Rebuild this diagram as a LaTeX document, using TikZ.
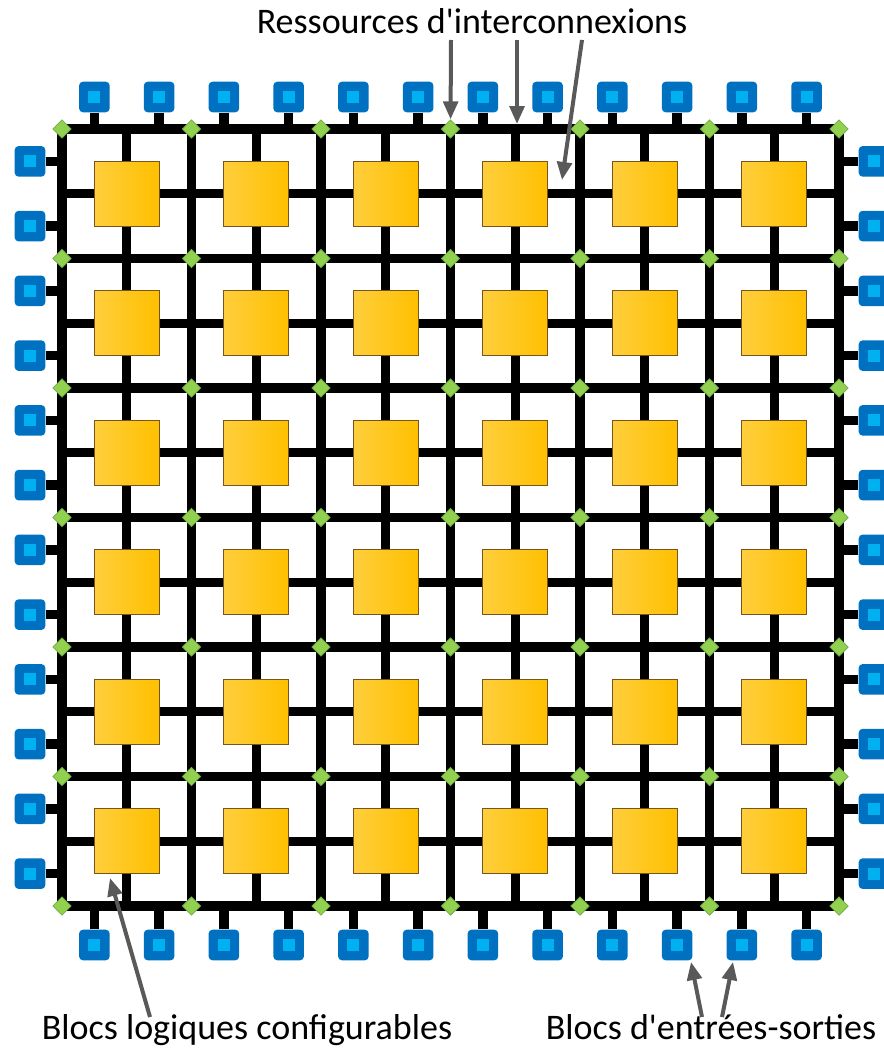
\documentclass[tikz,border=0pt]{standalone}
\usepackage{fontspec}
\setmainfont{Carlito}[Ligatures=TeXOff]
\usetikzlibrary{arrows.meta,shapes.geometric}
\usepackage{xcolor}
\definecolor{clbfill}{RGB}{255,192,0}
\definecolor{clblight}{RGB}{255,206,60}
\definecolor{clbedge}{RGB}{120,85,30}
\definecolor{iobblue}{RGB}{0,112,192}
\definecolor{iobcore}{RGB}{0,176,240}
\definecolor{swgreen}{RGB}{146,208,80}
\definecolor{swedge}{RGB}{112,173,71}
\definecolor{ptrgray}{RGB}{89,89,89}

\begin{document}
\begin{tikzpicture}[x=0.75pt, y=-0.75pt,
  wire/.style={line width=7pt, draw=black, line cap=rect},
  stub/.style={line width=7pt, draw=black},
  clb/.style={rectangle, draw=clbedge, line width=0.6pt, left color=clblight, right color=clbfill, minimum size=48.75pt, inner sep=0pt},
  iob/.style={rectangle, rounded corners=3pt, fill=iobblue, minimum size=23pt, inner sep=0pt, path picture={\fill[iobcore, sharp corners] ([xshift=-4.5pt,yshift=-4.5pt]path picture bounding box.center) rectangle ++(9pt,9pt);}},
  sw/.style={diamond, draw=swedge, line width=0.6pt, fill=swgreen, minimum size=14pt, inner sep=0pt},
  note/.style={font=\fontsize{27}{32}\selectfont, inner sep=0pt, anchor=base},
  ptr/.style={-{Triangle[length=13.5pt, width=11pt]}, line width=3pt, draw=ptrgray}
]
\useasboundingbox (0,0) rectangle (883,1049);

% grid points and cell centres
\foreach \i in {0,...,6}
  \foreach \j in {0,...,6}
    \coordinate (g-\i-\j) at ({62+129.5*\i},{129+129.5*\j});
\foreach \i in {0,...,5}
  \foreach \j in {0,...,5}
    \coordinate (c-\i-\j) at ({126.75+129.5*\i},{193.75+129.5*\j});

% routing tracks
\foreach \k in {0,...,6} {
  \draw[wire] (g-\k-0) -- (g-\k-6);
  \draw[wire] (g-0-\k) -- (g-6-\k);
}
\foreach \k in {0,...,5} {
  \draw[wire] (c-\k-0 |- g-0-0) -- (c-\k-0 |- g-0-6);
  \draw[wire] (c-0-\k -| g-0-0) -- (c-0-\k -| g-6-0);
}

% logic blocks
\foreach \i in {0,...,5}
  \foreach \j in {0,...,5}
    \node[clb] (clb-\i-\j) at (c-\i-\j) {};

% switch boxes
\foreach \i in {0,...,6}
  \foreach \j in {0,...,6}
    \node[sw] (sw-\i-\j) at (g-\i-\j) {};

% I/O blocks
\foreach \m in {1,...,12} {
  \node[iob] (iot-\m) at ({62+32.375*(2*\m-1)},97) {};
  \draw[stub] (iot-\m) -- (iot-\m |- g-0-0);
  \node[iob] (iob-\m) at ({62+32.375*(2*\m-1)},945) {};
  \draw[stub] (iob-\m) -- (iob-\m |- g-0-6);
  \node[iob] (iol-\m) at (30,{129+32.375*(2*\m-1)}) {};
  \draw[stub] (iol-\m) -- (iol-\m -| g-0-0);
  \node[iob] (ior-\m) at (874,{129+32.375*(2*\m-1)}) {};
  \draw[stub] (ior-\m) -- (ior-\m -| g-6-0);
}

% labels
\node[note] (lblroute) at (472,34) {Ressources d'interconnexions};
\node[note] (lblclb) at (247,1039) {Blocs logiques configurables};
\node[note] (lbliob) at (711,1039) {Blocs d'entrées-sorties};

\coordinate (route-a) at (451,40);
\coordinate (route-b) at (517,40);
\coordinate (route-c) at (582,40);
\coordinate (track-b) at (517,124);
\coordinate (track-c) at (562,180);
\coordinate (clb-tail) at (150,1017);
\coordinate (clb-tip) at (110,878);
\coordinate (iob-tail-a) at (702,1017);
\coordinate (iob-tail-b) at (722,1017);
\coordinate (iob-tip-a) at (691,962);
\coordinate (iob-tip-b) at (733,962);

\draw[ptr] (route-a) -- (sw-3-0);
\draw[ptr] (route-b) -- (track-b);
\draw[ptr] (route-c) -- (track-c);
\draw[ptr] (clb-tail) -- (clb-tip);
\draw[ptr] (iob-tail-a) -- (iob-tip-a);
\draw[ptr] (iob-tail-b) -- (iob-tip-b);
\end{tikzpicture}
\end{document}
